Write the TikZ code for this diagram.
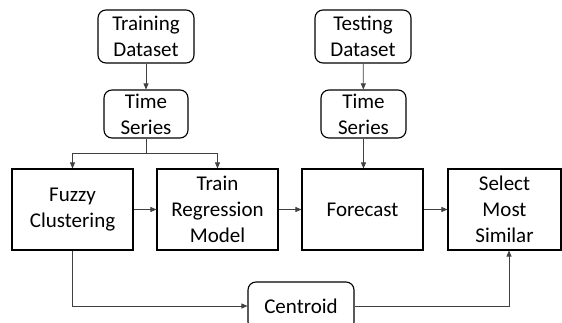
\documentclass[tikz,border=0pt]{standalone}
\usepackage{fontspec}
\setmainfont{Carlito}
\usetikzlibrary{arrows.meta}
\begin{document}
\begin{tikzpicture}[x=1pt,y=-1pt,
  base/.style={draw=black,line width=1.1pt,align=center,inner sep=0pt,
    font=\fontsize{21}{26}\selectfont},
  rbox/.style={base,rounded corners=8pt},
  sbox/.style={base,minimum height=81pt},
  link/.style={draw=black!75,line width=0.7pt},
  arr/.style={link,-{Triangle[length=6pt,width=5pt]}}]
\useasboundingbox (0,0) rectangle (562,323);

% input and preprocessing boxes
\node[rbox,minimum width=96pt,minimum height=53pt] (td)  at (146,36.5) {Training\\Dataset};
\node[rbox,minimum width=84pt,minimum height=48pt] (ts1) at (146,114) {Time\\Series};
\node[rbox,minimum width=96pt,minimum height=53pt] (ted) at (363,36.5) {Testing\\Dataset};
\node[rbox,minimum width=85pt,minimum height=48pt] (ts2) at (363.5,114) {Time\\Series};

% processing stages
\node[sbox,minimum width=121pt] (fc)  at (72.5,209.5) {Fuzzy\\Clustering};
\node[sbox,minimum width=121pt] (trm) at (217.5,209.5) {Train\\Regression\\Model};
\node[sbox,minimum width=121pt] (fo)  at (362.5,209.5) {Forecast};
\node[sbox,minimum width=113pt] (sel) at (504.5,209.5) {Select\\Most\\Similar};
\node[rbox,minimum width=106pt,minimum height=48pt] (ce) at (301,306) {Centroid};

% connectors
\draw[arr] (td) -- (ts1);
\draw[arr] (ted) -- (ts2);
\coordinate (br) at (146,153);
\draw[link] (ts1.south) -- (br);
\draw[arr] (br) -| (fc.north);
\draw[arr] (br) -| (trm.north);
\draw[arr] (ts2.south) -- (fo.north -| ts2.south);
\draw[arr] (fc) -- (trm);
\draw[arr] (trm) -- (fo);
\draw[arr] (fo) -- (sel);
\draw[arr] (fc.south) |- (ce.west);
\draw[arr] (ce.east) -| (509,0 |- sel.south);
\end{tikzpicture}
\end{document}
